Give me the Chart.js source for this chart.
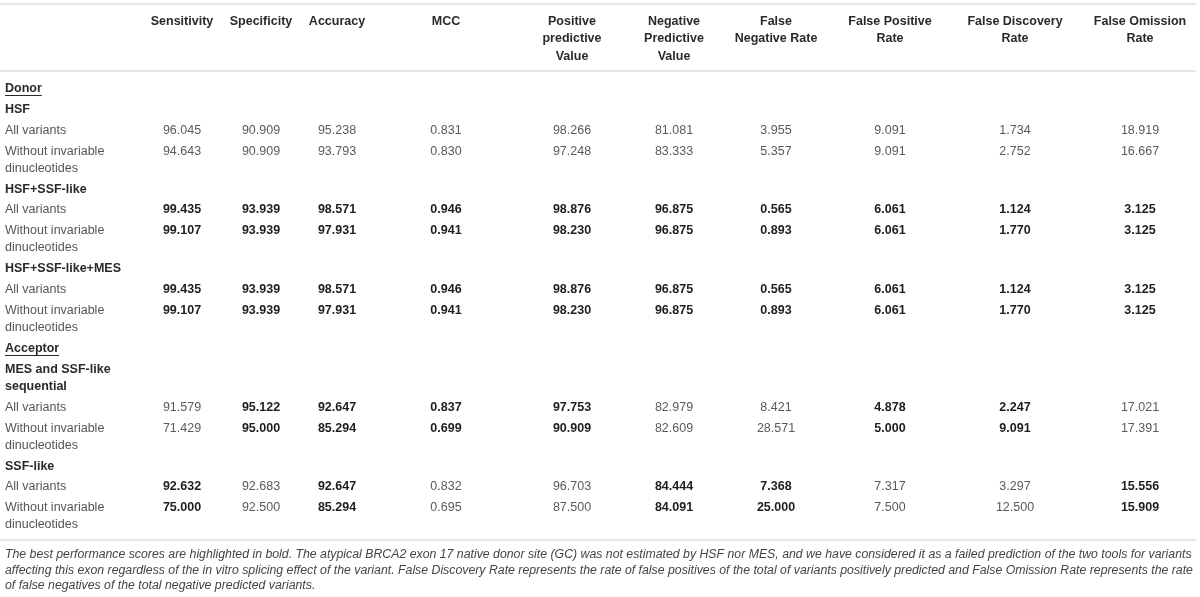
<!DOCTYPE html>
<html>
<head>
<meta charset="utf-8">
<script src="https://cdn.jsdelivr.net/npm/chart.js@4.4.1/dist/chart.umd.min.js"></script>
<style>
  html, body { margin: 0; padding: 0; background: #fff; }
  #wrap { width: 1200px; height: 597px; position: relative; }
</style>
</head>
<body>
<div id="wrap"><canvas id="tabla"></canvas></div>
<script>
// datos de la tabla
const columns = [
    ['Sensitivity'], ['Specificity'], ['Accuracy'], ['MCC'],
    ['Positive', 'predictive', 'Value'], ['Negative', 'Predictive', 'Value'],
    ['False', 'Negative Rate'], ['False Positive', 'Rate'],
    ['False Discovery', 'Rate'], ['False Omission', 'Rate']
];
const sections = ['Donor', 'Acceptor'];
const methods = [['HSF'], ['HSF+SSF-like'], ['HSF+SSF-like+MES'], ['MES and SSF-like', 'sequential'], ['SSF-like']];
const methodSection = [0, 0, 0, 1, 1];
const subsets = [['All variants'], ['Without invariable', 'dinucleotides']];

// una fila por método y subconjunto (todas / sin dinucleótidos invariables)
const scores = [
    [96.045, 90.909, 95.238, 0.831, 98.266, 81.081, 3.955, 9.091, 1.734, 18.919],
    [94.643, 90.909, 93.793, 0.830, 97.248, 83.333, 5.357, 9.091, 2.752, 16.667],
    [99.435, 93.939, 98.571, 0.946, 98.876, 96.875, 0.565, 6.061, 1.124, 3.125],
    [99.107, 93.939, 97.931, 0.941, 98.230, 96.875, 0.893, 6.061, 1.770, 3.125],
    [99.435, 93.939, 98.571, 0.946, 98.876, 96.875, 0.565, 6.061, 1.124, 3.125],
    [99.107, 93.939, 97.931, 0.941, 98.230, 96.875, 0.893, 6.061, 1.770, 3.125],
    [91.579, 95.122, 92.647, 0.837, 97.753, 82.979, 8.421, 4.878, 2.247, 17.021],
    [71.429, 95.000, 85.294, 0.699, 90.909, 82.609, 28.571, 5.000, 9.091, 17.391],
    [92.632, 92.683, 92.647, 0.832, 96.703, 84.444, 7.368, 7.317, 3.297, 15.556],
    [75.000, 92.500, 85.294, 0.695, 87.500, 84.091, 25.000, 7.500, 12.500, 15.909]
];
const best = [
    [0, 0, 0, 0, 0, 0, 0, 0, 0, 0],
    [0, 0, 0, 0, 0, 0, 0, 0, 0, 0],
    [1, 1, 1, 1, 1, 1, 1, 1, 1, 1],
    [1, 1, 1, 1, 1, 1, 1, 1, 1, 1],
    [1, 1, 1, 1, 1, 1, 1, 1, 1, 1],
    [1, 1, 1, 1, 1, 1, 1, 1, 1, 1],
    [0, 1, 1, 1, 1, 0, 0, 1, 1, 0],
    [0, 1, 1, 1, 1, 0, 0, 1, 1, 0],
    [1, 0, 1, 0, 0, 1, 1, 0, 0, 1],
    [1, 0, 1, 0, 0, 1, 1, 0, 0, 1]
];
const footnote = [
    'The best performance scores are highlighted in bold. The atypical BRCA2 exon 17 native donor site (GC) was not estimated by HSF nor MES, and we have considered it as a failed prediction of the two tools for variants',
    'affecting this exon regardless of the in vitro splicing effect of the variant. False Discovery Rate represents the rate of false positives of the total of variants positively predicted and False Omission Rate represents the rate',
    'of false negatives of the total negative predicted variants.'
];

// maquetación
const W = 1200, H = 597;
const colX = [182, 261, 337, 446, 572, 674, 776, 890, 1015, 1140];
const labelX = 5;
const rules = [4, 71, 540];
const headTop = 21.5, headLine = 17.5;
const firstRow = 88.5, rowGap = 20.9, lineGap = 17;
const noteY = 554.5, noteLine = 15.6;
const FONT = '"Liberation Sans", Arial, Helvetica, sans-serif';

// construir filas (etiquetas) y celdas
const labelRows = [];
const cells = [];
let y = firstRow - rowGap;
let lastSection = -1;
let k = 0;
methods.forEach((m, mi) => {
    if (methodSection[mi] !== lastSection) {
        lastSection = methodSection[mi];
        y += rowGap;
        labelRows.push({ lines: [sections[lastSection]], y: y, kind: 'section' });
    }
    y += rowGap;
    labelRows.push({ lines: m, y: y, kind: 'method' });
    y += lineGap * (m.length - 1);
    subsets.forEach((s) => {
        y += rowGap;
        labelRows.push({ lines: s, y: y, kind: 'subset' });
        scores[k].forEach((v, c) => {
            cells.push({ x: colX[c], y: y, v: v, b: best[k][c] });
        });
        y += lineGap * (s.length - 1);
        k++;
    });
});

const tablePlugin = {
    id: 'tabla',
    afterDatasetsDraw(chart) {
        const ctx = chart.ctx;
        const xs = chart.scales.x, ys = chart.scales.y;
        ctx.save();

        // líneas horizontales
        ctx.strokeStyle = '#dcdcdc';
        ctx.lineWidth = 1.5;
        rules.forEach((r) => {
            ctx.beginPath();
            ctx.moveTo(xs.getPixelForValue(0), ys.getPixelForValue(r));
            ctx.lineTo(xs.getPixelForValue(1196), ys.getPixelForValue(r));
            ctx.stroke();
        });

        // cabecera
        ctx.textAlign = 'center';
        ctx.textBaseline = 'middle';
        ctx.fillStyle = '#2a2a2a';
        ctx.font = 'bold 12.5px ' + FONT;
        columns.forEach((col, c) => {
            col.forEach((line, i) => {
                ctx.fillText(line, xs.getPixelForValue(colX[c]), ys.getPixelForValue(headTop + i * headLine));
            });
        });

        // etiquetas de filas
        ctx.textAlign = 'left';
        labelRows.forEach((row) => {
            if (row.kind === 'subset') {
                ctx.font = '12.5px ' + FONT;
                ctx.fillStyle = '#555';
            } else {
                ctx.font = 'bold 12.5px ' + FONT;
                ctx.fillStyle = '#2a2a2a';
            }
            row.lines.forEach((line, i) => {
                const px = xs.getPixelForValue(labelX);
                const py = ys.getPixelForValue(row.y + i * lineGap);
                ctx.fillText(line, px, py);
                if (row.kind === 'section') {
                    const w = ctx.measureText(line).width;
                    ctx.strokeStyle = '#2a2a2a';
                    ctx.lineWidth = 1;
                    ctx.beginPath();
                    ctx.moveTo(px, py + 7);
                    ctx.lineTo(px + w, py + 7);
                    ctx.stroke();
                }
            });
        });

        // celdas con valores
        ctx.textAlign = 'center';
        const meta = chart.getDatasetMeta(0);
        meta.data.forEach((el, i) => {
            const cell = cells[i];
            if (cell.b) {
                ctx.font = 'bold 12.5px ' + FONT;
                ctx.fillStyle = '#1e1e1e';
            } else {
                ctx.font = '12.5px ' + FONT;
                ctx.fillStyle = '#5a5a5a';
            }
            ctx.fillText(cell.v.toFixed(3), el.x, el.y);
        });

        // nota al pie, ajustada al ancho de la tabla
        ctx.textAlign = 'left';
        ctx.fillStyle = '#444';
        ctx.font = 'italic 12px ' + FONT;
        const w0 = ctx.measureText(footnote[0]).width;
        const size = 12 * (1188 / w0);
        ctx.font = 'italic ' + size.toFixed(2) + 'px ' + FONT;
        footnote.forEach((line, i) => {
            ctx.fillText(line, xs.getPixelForValue(labelX), ys.getPixelForValue(noteY + i * noteLine));
        });

        ctx.restore();
    }
};

const canvas = document.getElementById('tabla');
new Chart(canvas.getContext('2d'), {
    type: 'scatter',
    data: {
        datasets: [{
            data: cells.map((c) => ({ x: c.x, y: c.y })),
            pointRadius: 0,
            pointHoverRadius: 0
        }]
    },
    options: {
        responsive: true,
        maintainAspectRatio: false,
        animation: false,
        events: [],
        layout: { padding: 0 },
        plugins: {
            legend: { display: false },
            tooltip: { enabled: false }
        },
        scales: {
            x: { type: 'linear', min: 0, max: W, display: false },
            y: { type: 'linear', min: 0, max: H, reverse: true, display: false }
        }
    },
    plugins: [tablePlugin]
});
</script>
</body>
</html>
